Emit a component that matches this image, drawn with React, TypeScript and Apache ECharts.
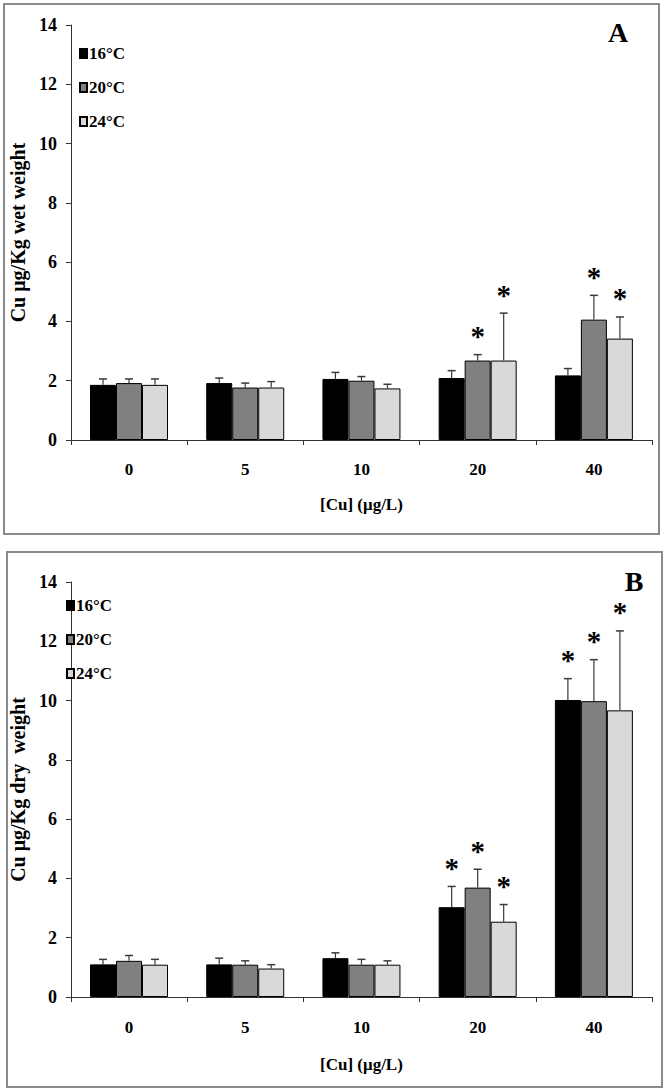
import React, { useEffect, useRef } from "react";
import * as echarts from "echarts";

const categories = ["0", "5", "10", "20", "40"];
const seriesNames = ["16°C", "20°C", "24°C"];
const seriesColors = ["#000000", "#808080", "#d9d9d9"];

// Panel A: wet weight
const wet16 = [1.86, 1.92, 2.06, 2.09, 2.18];
const wet16Sd = [0.2, 0.17, 0.22, 0.25, 0.23];
const wet16Sig = [0, 0, 0, 0, 0];
const wet20 = [1.92, 1.77, 2.0, 2.68, 4.06];
const wet20Sd = [0.14, 0.15, 0.14, 0.2, 0.82];
const wet20Sig = [0, 0, 0, 1, 1];
const wet24 = [1.86, 1.77, 1.74, 2.68, 3.42];
const wet24Sd = [0.2, 0.2, 0.14, 1.6, 0.73];
const wet24Sig = [0, 0, 0, 1, 1];

// Panel B: dry weight
const dry16 = [1.1, 1.1, 1.31, 3.03, 10.02];
const dry16Sd = [0.17, 0.21, 0.18, 0.7, 0.72];
const dry16Sig = [0, 0, 0, 1, 1];
const dry20 = [1.22, 1.09, 1.09, 3.69, 9.98];
const dry20Sd = [0.18, 0.13, 0.18, 0.62, 1.4];
const dry20Sig = [0, 0, 0, 1, 1];
const dry24 = [1.09, 0.96, 1.09, 2.54, 9.67];
const dry24Sd = [0.18, 0.13, 0.13, 0.58, 2.68];
const dry24Sig = [0, 0, 0, 1, 1];

const yTicksMax = 14;
const yTickInterval = 2;

const FONT = '"Liberation Serif", "Times New Roman", serif';
const BAR_W = 26;

export default function App() {
  const ref = useRef<HTMLDivElement>(null);

  useEffect(() => {
    if (!ref.current) return;
    const chart = echarts.init(ref.current, undefined, { renderer: "svg" });

    const panels = [
      {
        means: [wet16, wet20, wet24],
        sds: [wet16Sd, wet20Sd, wet24Sd],
        sigs: [wet16Sig, wet20Sig, wet24Sig],
        yName: "Cu μg/Kg wet weight",
        grid: { left: 62, right: 14, top: 25, height: 415 },
        labelMargin: 21,
        nameGap: 56,
      },
      {
        means: [dry16, dry20, dry24],
        sds: [dry16Sd, dry20Sd, dry24Sd],
        sigs: [dry16Sig, dry20Sig, dry24Sig],
        yName: "Cu μg/Kg dry  weight",
        grid: { left: 62, right: 14, top: 582, height: 415 },
        labelMargin: 22,
        nameGap: 59,
      },
    ];

    const axisLineStyle = { color: "#333", width: 1 };
    const boldText = { fontFamily: FONT, fontWeight: "bold" as const, color: "#000" };

    const series: any[] = [];
    panels.forEach((p, gi) => {
      seriesNames.forEach((name, si) => {
        series.push({
          type: "bar",
          name,
          xAxisIndex: gi,
          yAxisIndex: gi,
          data: p.means[si],
          barWidth: BAR_W,
          barGap: "0%",
          itemStyle: { color: seriesColors[si], borderColor: "#000", borderWidth: 1 },
        });
      });
      const errData: any[] = [];
      seriesNames.forEach((_, si) => {
        p.means[si].forEach((m, ci) => {
          errData.push([ci, m, m + p.sds[si][ci], p.sigs[si][ci], si]);
        });
      });
      series.push({
        type: "custom",
        xAxisIndex: gi,
        yAxisIndex: gi,
        data: errData,
        encode: { x: 0, y: 2 },
        z: 5,
        renderItem: (params: any, api: any) => {
          const ci = api.value(0);
          const si = api.value(4);
          const base = api.coord([ci, api.value(1)]);
          const top = api.coord([ci, api.value(2)]);
          const x = base[0] + (si - 1) * BAR_W;
          const children: any[] = [
            {
              type: "line",
              shape: { x1: x, y1: base[1], x2: x, y2: top[1] },
              style: { stroke: "#3a3a3a", lineWidth: 1.2 },
            },
            {
              type: "line",
              shape: { x1: x - 4, y1: top[1], x2: x + 4, y2: top[1] },
              style: { stroke: "#3a3a3a", lineWidth: 1.5 },
            },
          ];
          if (api.value(3)) {
            children.push({
              type: "text",
              style: {
                text: "*",
                x,
                y: top[1] - 4,
                align: "center",
                verticalAlign: "bottom",
                font: `bold 29px ${FONT}`,
                fill: "#000",
              },
            });
          }
          return { type: "group", children };
        },
      });
    });

    const option: any = {
      animation: false,
      backgroundColor: "#fff",
      grid: panels.map((p) => p.grid),
      legend: [
        { left: 74, top: 40 },
        { left: 61, top: 592 },
      ].map((pos) => ({
        ...pos,
        data: seriesNames,
        orient: "vertical",
        icon: "rect",
        itemWidth: 7,
        itemHeight: 9,
        itemGap: 17,
        selectedMode: false,
        textStyle: { ...boldText, fontSize: 17, padding: [0, 0, 0, -3] },
      })),
      xAxis: panels.map((p, gi) => ({
        type: "category",
        gridIndex: gi,
        data: categories,
        axisLine: { show: true, lineStyle: axisLineStyle },
        axisTick: { show: true, length: 5, alignWithLabel: false, lineStyle: axisLineStyle },
        axisLabel: { ...boldText, fontSize: 17, margin: p.labelMargin },
        name: "[Cu] (μg/L)",
        nameLocation: "middle",
        nameGap: p.nameGap,
        nameTextStyle: { ...boldText, fontSize: 17 },
      })),
      yAxis: panels.map((p, gi) => ({
        type: "value",
        gridIndex: gi,
        min: 0,
        max: yTicksMax,
        interval: yTickInterval,
        axisLine: { show: true, lineStyle: axisLineStyle },
        axisTick: { show: true, length: 5, lineStyle: axisLineStyle },
        splitLine: { show: false },
        axisLabel: { ...boldText, fontSize: 18, margin: 14 },
        name: p.yName,
        nameLocation: "middle",
        nameGap: 33,
        nameRotate: 90,
        nameTextStyle: { ...boldText, fontSize: 20 },
      })),
      graphic: [
        {
          type: "rect",
          shape: { x: 4, y: 4, width: 655, height: 530 },
          style: { fill: "none", stroke: "#8a8a8a", lineWidth: 2 },
          silent: true,
        },
        {
          type: "rect",
          shape: { x: 7, y: 552, width: 655, height: 535 },
          style: { fill: "none", stroke: "#8a8a8a", lineWidth: 2 },
          silent: true,
        },
        {
          type: "text",
          x: 618,
          y: 32,
          style: { text: "A", font: `bold 28px ${FONT}`, fill: "#000", align: "center", verticalAlign: "middle" },
        },
        {
          type: "text",
          x: 634,
          y: 581,
          style: { text: "B", font: `bold 28px ${FONT}`, fill: "#000", align: "center", verticalAlign: "middle" },
        },
      ],
      series,
    };

    chart.setOption(option);
    return () => chart.dispose();
  }, []);

  return (
    <div
      ref={ref}
      style={{ position: "fixed", left: 0, top: 0, width: 666, height: 1092, background: "#fff" }}
    />
  );
}
